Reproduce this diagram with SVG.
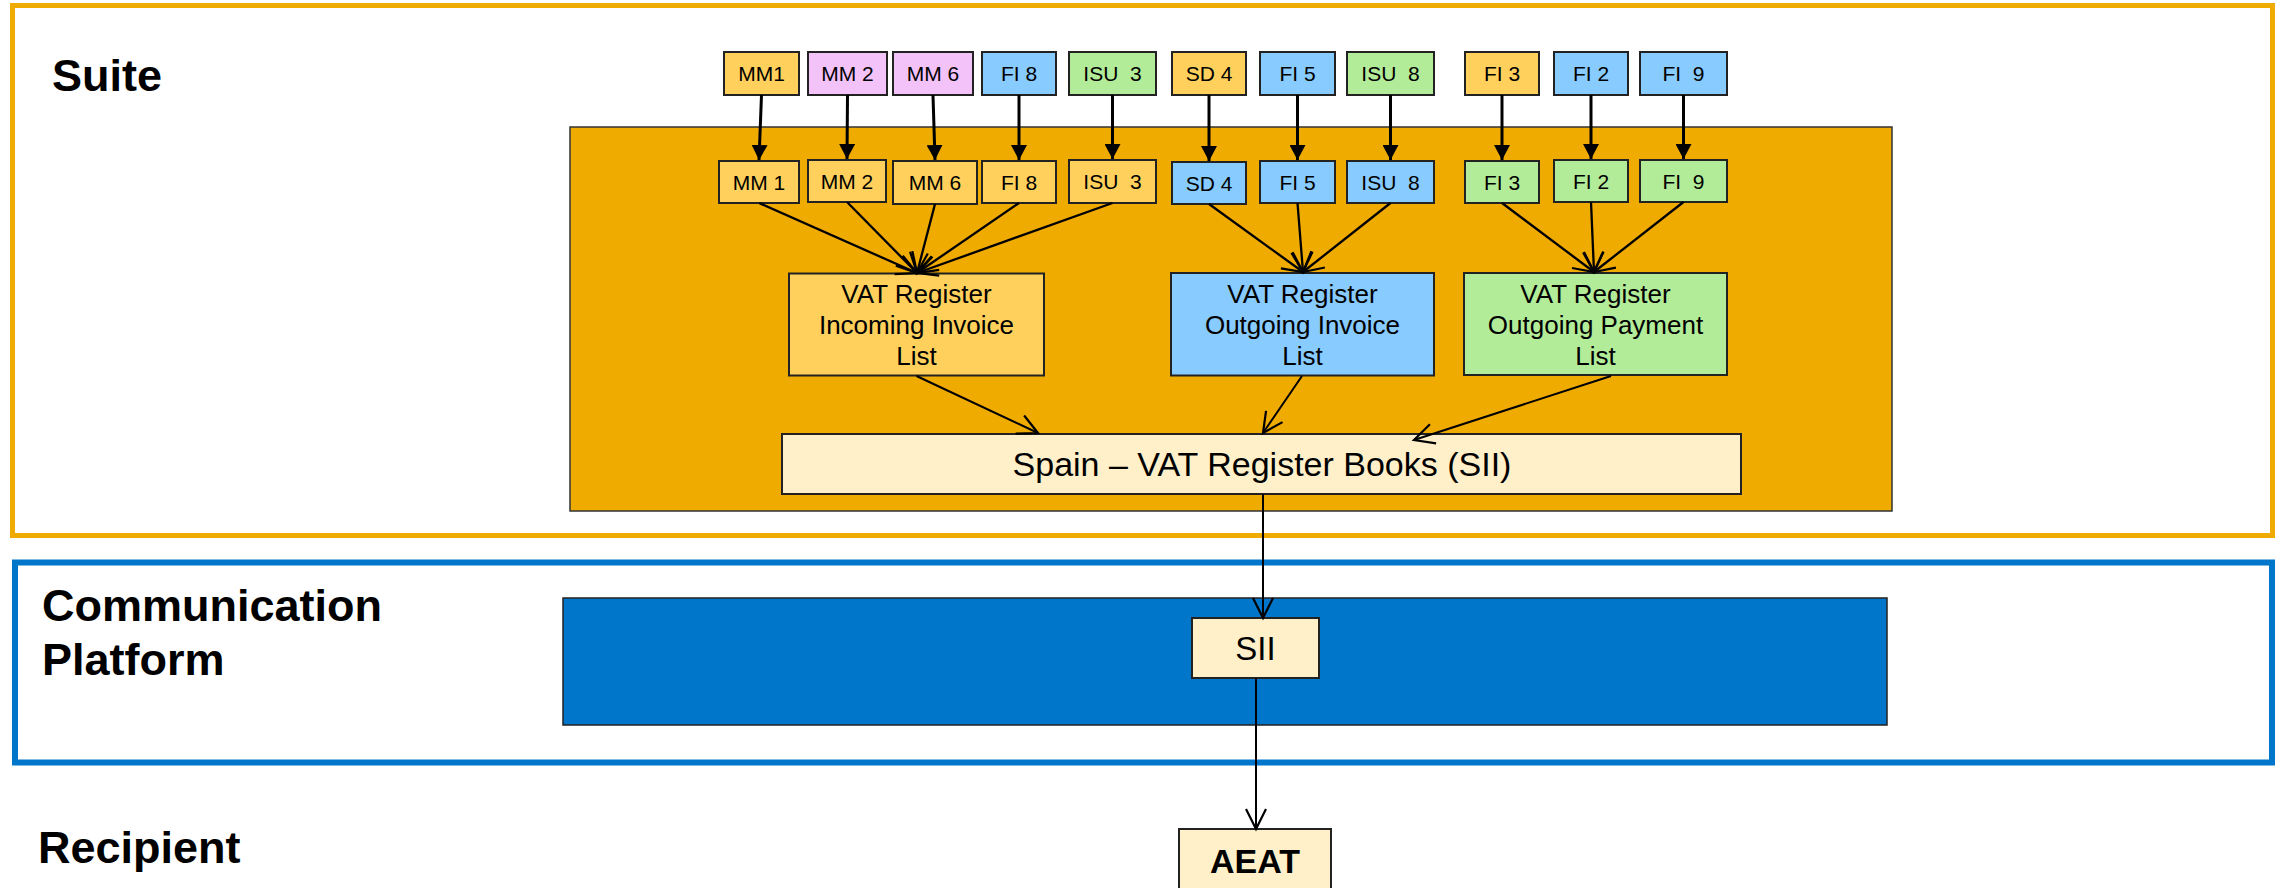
<svg xmlns="http://www.w3.org/2000/svg" width="2286" height="888" viewBox="0 0 2286 888">
<style>
text{font-family:"Liberation Sans",Arial,sans-serif;fill:#000}
.lbl{font-size:45px;font-weight:bold}
.sm{font-size:21px;text-anchor:middle;white-space:pre}
.vat{font-size:26px;text-anchor:middle}
.bx{stroke:#222;stroke-width:2}
.or{fill:#FFD15C}
.pk{fill:#F2C2F9}
.bl{fill:#88CBFF}
.gr{fill:#B3EC98}
.cr{fill:#FFF0C9}
.c1{stroke:#000;stroke-width:3;fill:none}
.c2{stroke:#000;stroke-width:2.3;fill:none}
.c3{stroke:#000;stroke-width:2;fill:none}
</style>
<defs>
<marker id="tri" markerUnits="userSpaceOnUse" markerWidth="16" markerHeight="16" refX="15" refY="8" orient="auto" viewBox="0 0 16 16">
<path d="M0,0 L15,8 L0,16 z" fill="#000"/>
</marker>
<marker id="vee" markerUnits="userSpaceOnUse" markerWidth="24" markerHeight="24" refX="21" refY="11" orient="auto" viewBox="0 0 24 22">
<path d="M1,1 L21,11 L1,21" fill="none" stroke="#000" stroke-width="2.2"/>
</marker>
</defs>

<g id="frames">
<rect id="suite-frame" x="12.5" y="5.5" width="2260" height="530" fill="#fff" stroke="#F0AB00" stroke-width="5"/>
<rect id="comm-frame" x="15" y="562.5" width="2257" height="200" fill="#fff" stroke="#0076CB" stroke-width="6"/>
<text class="lbl" x="52" y="91">Suite</text>
<text class="lbl" x="42" y="621">Communication</text>
<text class="lbl" x="42" y="675">Platform</text>
<text class="lbl" x="38" y="863">Recipient</text>
</g>

<g id="suite-area">
<rect x="570" y="127" width="1322" height="384" fill="#F0AB00" stroke="#333" stroke-width="1.5"/>
</g>
<g id="platform-area">
<rect x="563" y="598" width="1324" height="127" fill="#0076CB" stroke="#222" stroke-width="1.5"/>
</g>

<g id="top-row">
<g id="t-mm1"><rect class="bx or" x="724" y="52" width="75" height="43"/><text class="sm" x="761.5" y="81">MM1</text></g>
<g id="t-mm2"><rect class="bx pk" x="808" y="52" width="79" height="43"/><text class="sm" x="847.5" y="81">MM 2</text></g>
<g id="t-mm6"><rect class="bx pk" x="893" y="52" width="80" height="43"/><text class="sm" x="933" y="81">MM 6</text></g>
<g id="t-fi8"><rect class="bx bl" x="982" y="52" width="74" height="43"/><text class="sm" x="1019" y="81">FI 8</text></g>
<g id="t-isu3"><rect class="bx gr" x="1069" y="52" width="87" height="43"/><text class="sm" x="1112.5" y="81" xml:space="preserve">ISU  3</text></g>
<g id="t-sd4"><rect class="bx or" x="1172" y="52" width="74" height="43"/><text class="sm" x="1209" y="81">SD 4</text></g>
<g id="t-fi5"><rect class="bx bl" x="1260" y="52" width="75" height="43"/><text class="sm" x="1297.5" y="81">FI 5</text></g>
<g id="t-isu8"><rect class="bx gr" x="1347" y="52" width="87" height="43"/><text class="sm" x="1390.5" y="81" xml:space="preserve">ISU  8</text></g>
<g id="t-fi3"><rect class="bx or" x="1465" y="52" width="74" height="43"/><text class="sm" x="1502" y="81">FI 3</text></g>
<g id="t-fi2"><rect class="bx bl" x="1554" y="52" width="74" height="43"/><text class="sm" x="1591" y="81">FI 2</text></g>
<g id="t-fi9"><rect class="bx bl" x="1640" y="52" width="87" height="43"/><text class="sm" x="1683.5" y="81" xml:space="preserve">FI  9</text></g>
</g>

<g id="second-row">
<g id="s-mm1"><rect class="bx or" x="719" y="161" width="80" height="42"/><text class="sm" x="759" y="190">MM 1</text></g>
<g id="s-mm2"><rect class="bx or" x="808" y="160" width="78" height="42"/><text class="sm" x="847" y="189">MM 2</text></g>
<g id="s-mm6"><rect class="bx or" x="893" y="161" width="84" height="43"/><text class="sm" x="935" y="190">MM 6</text></g>
<g id="s-fi8"><rect class="bx or" x="982" y="161" width="74" height="42"/><text class="sm" x="1019" y="190">FI 8</text></g>
<g id="s-isu3"><rect class="bx or" x="1069" y="160" width="87" height="43"/><text class="sm" x="1112.5" y="189" xml:space="preserve">ISU  3</text></g>
<g id="s-sd4"><rect class="bx bl" x="1172" y="162" width="74" height="42"/><text class="sm" x="1209" y="191">SD 4</text></g>
<g id="s-fi5"><rect class="bx bl" x="1260" y="161" width="75" height="42"/><text class="sm" x="1297.5" y="190">FI 5</text></g>
<g id="s-isu8"><rect class="bx bl" x="1347" y="161" width="87" height="42"/><text class="sm" x="1390.5" y="190" xml:space="preserve">ISU  8</text></g>
<g id="s-fi3"><rect class="bx gr" x="1465" y="161" width="74" height="42"/><text class="sm" x="1502" y="190">FI 3</text></g>
<g id="s-fi2"><rect class="bx gr" x="1554" y="160" width="74" height="42"/><text class="sm" x="1591" y="189">FI 2</text></g>
<g id="s-fi9"><rect class="bx gr" x="1640" y="160" width="87" height="42"/><text class="sm" x="1683.5" y="189" xml:space="preserve">FI  9</text></g>
</g>

<g id="vat-incoming"><rect class="bx or" x="789" y="273.5" width="255" height="102"/>
<text class="vat" x="916.5" y="303">VAT Register</text><text class="vat" x="916.5" y="334">Incoming Invoice</text><text class="vat" x="916.5" y="365">List</text></g>
<g id="vat-outgoing-invoice"><rect class="bx bl" x="1171" y="273" width="263" height="102.5"/>
<text class="vat" x="1302.5" y="303">VAT Register</text><text class="vat" x="1302.5" y="334">Outgoing Invoice</text><text class="vat" x="1302.5" y="365">List</text></g>
<g id="vat-outgoing-payment"><rect class="bx gr" x="1464" y="273" width="263" height="102"/>
<text class="vat" x="1595.5" y="303">VAT Register</text><text class="vat" x="1595.5" y="334">Outgoing Payment</text><text class="vat" x="1595.5" y="365">List</text></g>

<g id="spain-sii"><rect class="bx cr" x="782" y="434" width="959" height="60"/>
<text x="1262" y="476" style="font-size:34px;text-anchor:middle">Spain – VAT Register Books (SII)</text></g>

<g id="sii"><rect class="bx cr" x="1192" y="618" width="127" height="60"/>
<text x="1255.5" y="660" style="font-size:33px;text-anchor:middle">SII</text></g>

<g id="aeat"><rect class="bx cr" x="1179" y="829" width="152" height="70"/>
<text x="1255" y="873" style="font-size:34px;font-weight:bold;text-anchor:middle">AEAT</text></g>

<g id="connectors">
<line class="c1" x1="761.5" y1="95" x2="759" y2="160" marker-end="url(#tri)"/>
<line class="c1" x1="847.5" y1="95" x2="847" y2="159" marker-end="url(#tri)"/>
<line class="c1" x1="933" y1="95" x2="935" y2="160" marker-end="url(#tri)"/>
<line class="c1" x1="1019" y1="95" x2="1019" y2="160" marker-end="url(#tri)"/>
<line class="c1" x1="1112.5" y1="95" x2="1112.5" y2="159" marker-end="url(#tri)"/>
<line class="c1" x1="1209" y1="95" x2="1209" y2="161" marker-end="url(#tri)"/>
<line class="c1" x1="1297.5" y1="95" x2="1297.5" y2="160" marker-end="url(#tri)"/>
<line class="c1" x1="1390.5" y1="95" x2="1390.5" y2="160" marker-end="url(#tri)"/>
<line class="c1" x1="1502" y1="95" x2="1502" y2="160" marker-end="url(#tri)"/>
<line class="c1" x1="1591" y1="95" x2="1591" y2="159" marker-end="url(#tri)"/>
<line class="c1" x1="1683.5" y1="95" x2="1683.5" y2="159" marker-end="url(#tri)"/>

<line class="c2" x1="759" y1="203" x2="917" y2="273" marker-end="url(#vee)"/>
<line class="c2" x1="847" y1="202" x2="917" y2="273" marker-end="url(#vee)"/>
<line class="c2" x1="935" y1="204" x2="917" y2="273" marker-end="url(#vee)"/>
<line class="c2" x1="1019" y1="203" x2="917" y2="273" marker-end="url(#vee)"/>
<line class="c2" x1="1112.5" y1="203" x2="917" y2="273" marker-end="url(#vee)"/>

<line class="c2" x1="1209" y1="204" x2="1303" y2="272" marker-end="url(#vee)"/>
<line class="c2" x1="1297.5" y1="203" x2="1303" y2="272" marker-end="url(#vee)"/>
<line class="c2" x1="1390.5" y1="203" x2="1303" y2="272" marker-end="url(#vee)"/>

<line class="c2" x1="1502" y1="203" x2="1594" y2="272" marker-end="url(#vee)"/>
<line class="c2" x1="1591" y1="202" x2="1594" y2="272" marker-end="url(#vee)"/>
<line class="c2" x1="1683.5" y1="202" x2="1594" y2="272" marker-end="url(#vee)"/>

<line class="c3" x1="916.5" y1="376" x2="1038" y2="433" marker-end="url(#vee)"/>
<line class="c3" x1="1302" y1="376" x2="1263" y2="433" marker-end="url(#vee)"/>
<line class="c3" x1="1611" y1="376" x2="1414" y2="440" marker-end="url(#vee)"/>

<line class="c3" x1="1263" y1="494" x2="1263" y2="618" marker-end="url(#vee)"/>
<line class="c3" x1="1256" y1="678" x2="1256" y2="829" marker-end="url(#vee)"/>
</g>
</svg>
